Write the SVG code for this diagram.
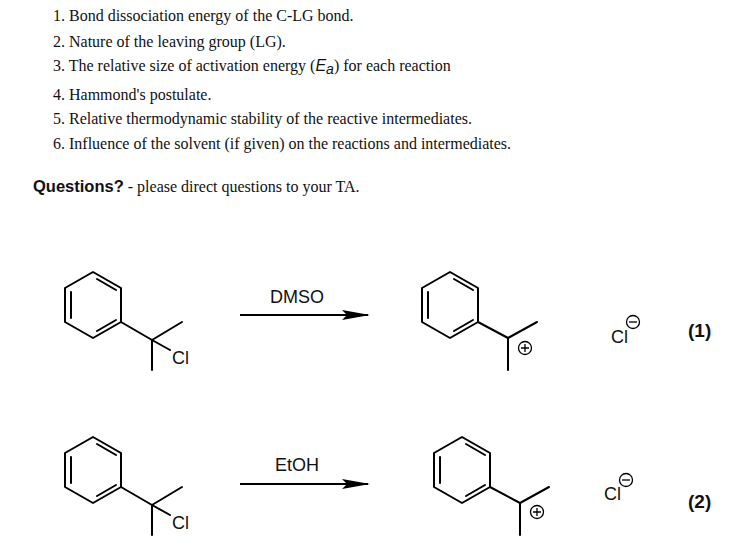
<svg xmlns="http://www.w3.org/2000/svg" width="730" height="548" viewBox="0 0 730 548">
<style>
.t{font-family:"Liberation Serif",serif;font-size:16px;fill:#111}
.s{font-family:"Liberation Sans",Arial,sans-serif;fill:#111}
.b{stroke:#000;stroke-width:2;fill:none;stroke-linecap:round;stroke-linejoin:round}
</style>
<defs>
<marker id="ah" markerWidth="28" markerHeight="10" refX="26" refY="5" orient="auto" markerUnits="userSpaceOnUse"><path d="M0,0 L28,5 L0,10 L5,5 Z" fill="#000"/></marker>
<g id="benz">
<path class="b" d="M0,-33 L28,-17 L28,17 L0,33 L-28,17 L-28,-17 Z"/>
<path class="b" d="M-22,-13 L-22,13 M4,-26 L23,-15 M23,15 L4,26"/>
</g>
</defs>
<g id="text">
<text class="t" x="53" y="21">1.  Bond dissociation energy of the C-LG bond.</text>
<text class="t" x="53" y="47">2.  Nature of the leaving group (LG).</text>
<text class="t" x="53" y="71">3.  The relative size of activation energy (<tspan font-family="Liberation Sans,sans-serif" font-style="italic">E</tspan><tspan font-family="Liberation Sans,sans-serif" font-style="italic" font-size="14" dy="3">a</tspan><tspan dy="-3">) for each reaction</tspan></text>
<text class="t" x="53" y="100">4.  Hammond's postulate.</text>
<text class="t" x="53" y="124">5.  Relative thermodynamic stability of the reactive intermediates.</text>
<text class="t" x="53" y="149">6.  Influence of the solvent (if given) on the reactions and intermediates.</text>
<text x="33" y="192" class="t"><tspan class="s" font-weight="bold" font-size="16.5">Questions?</tspan> - please direct questions to your TA.</text>
</g>
<g id="reactant1">
<use href="#benz" x="93" y="305"/>
<path class="b" d="M121,322 L152,340 L182,322 M152,340 L152,370 M152,340 L170,350"/>
<text class="s" x="172" y="364" font-size="18">Cl</text>
</g>
<g id="product1">
<use href="#benz" x="450" y="305"/>
<path class="b" d="M478,322 L508,338 L537,322 M508,338 L508,370"/>
<circle cx="525" cy="348" r="6.5" fill="none" stroke="#000" stroke-width="1.3"/>
<path d="M521,348 h8 M525,344 v8" stroke="#000" stroke-width="1.3"/>
</g>
<g id="chloride1">
<text class="s" x="611" y="343" font-size="18">Cl</text>
<circle cx="633" cy="322" r="6.5" fill="none" stroke="#000" stroke-width="1.3"/>
<path d="M629,322 h8" stroke="#000" stroke-width="1.3"/>
</g>
<text class="s" x="688" y="337" font-size="19" font-weight="bold">(1)</text>
<g id="reactant2">
<use href="#benz" x="93" y="470"/>
<path class="b" d="M121,487 L152,505 L182,487 M152,505 L152,535 M152,505 L170,515"/>
<text class="s" x="172" y="529" font-size="18">Cl</text>
</g>
<g id="product2">
<use href="#benz" x="462" y="470"/>
<path class="b" d="M490,487 L520,503 L549,487 M520,503 L520,535"/>
<circle cx="537" cy="512" r="6.5" fill="none" stroke="#000" stroke-width="1.3"/>
<path d="M533,512 h8 M537,508 v8" stroke="#000" stroke-width="1.3"/>
</g>
<g id="chloride2">
<text class="s" x="604" y="500" font-size="18">Cl</text>
<circle cx="626" cy="480" r="6.5" fill="none" stroke="#000" stroke-width="1.3"/>
<path d="M622,480 h8" stroke="#000" stroke-width="1.3"/>
</g>
<text class="s" x="688" y="508" font-size="19" font-weight="bold">(2)</text>
<g id="connectors">
<line x1="240" y1="315" x2="368" y2="315" stroke="#000" stroke-width="2" marker-end="url(#ah)"/>
<text class="s" x="297" y="303" font-size="18" text-anchor="middle">DMSO</text>
<line x1="240" y1="484" x2="368" y2="484" stroke="#000" stroke-width="2" marker-end="url(#ah)"/>
<text class="s" x="297" y="471" font-size="18" text-anchor="middle">EtOH</text>
</g>
</svg>
